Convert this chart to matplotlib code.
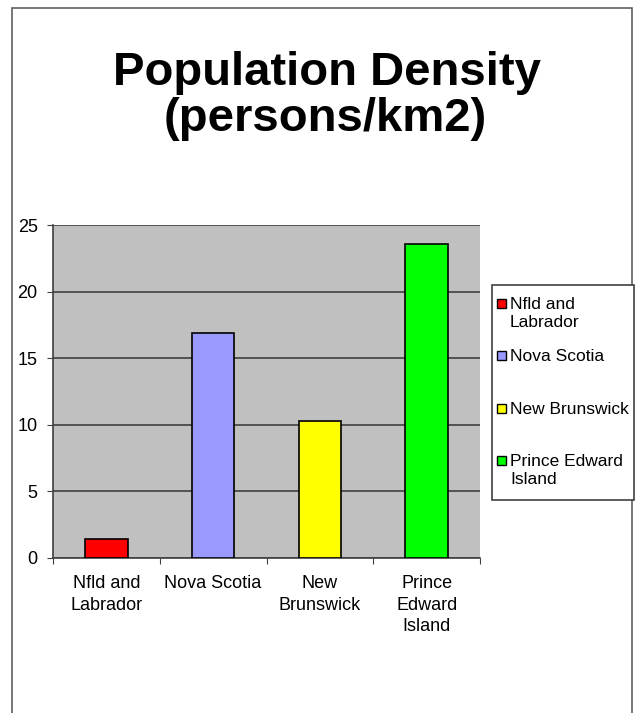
import matplotlib
matplotlib.use('Agg')
import matplotlib.pyplot as plt
from matplotlib.patches import Rectangle

plt.rcParams['font.family'] = ['Liberation Sans', 'DejaVu Sans']

provinces = ['Nfld and\nLabrador', 'Nova Scotia', 'New\nBrunswick', 'Prince\nEdward\nIsland']
legend_labels = ['Nfld and\nLabrador', 'Nova Scotia', 'New Brunswick', 'Prince Edward\nIsland']
density = [1.4, 16.9, 10.3, 23.6]
colors = ['#ff0000', '#9999ff', '#ffff00', '#00ff00']

W, H = 642, 713
fig = plt.figure(figsize=(W / 100, H / 100), dpi=100)

def fx(px):
    return px / W

def fy(py):
    return 1 - py / H

# outer frame (bottom edge falls off the picture)
fig.patches.append(Rectangle((fx(12), -0.05), fx(620), 1.05 - 8 / H, transform=fig.transFigure,
                             fill=False, edgecolor='#606060', linewidth=1.2))

ax = fig.add_axes([fx(53), fy(558), fx(480 - 53), (558 - 225) / H])
ax.set_facecolor('#c0c0c0')
x = range(len(density))
ax.bar(x, density, width=0.4, color=colors, edgecolor='black', linewidth=1.2, zorder=3)
ax.set_xlim(-0.5, 3.5)
ax.set_ylim(0, 25)
ax.set_yticks(range(0, 26, 5))
ax.yaxis.grid(True, color='#404040', linewidth=1.2, zorder=1)
ax.set_xticks([-0.5, 0.5, 1.5, 2.5, 3.5])
ax.set_xticklabels([])
ax.set_xticks(list(x), minor=True)
ax.set_xticklabels(provinces, minor=True, fontsize=13, linespacing=1.35)
ax.tick_params(axis='x', which='minor', length=0, pad=12.5)
ax.tick_params(axis='x', which='major', length=4, color='#404040')
ax.tick_params(axis='y', length=4, labelsize=13, color='#404040', pad=7)
for s in ['top', 'right']:
    ax.spines[s].set_visible(False)
for s in ['left', 'bottom']:
    ax.spines[s].set_color('#404040')
    ax.spines[s].set_linewidth(1.2)

# Excel-style legend: entries placed at even steps, swatch beside first line
fig.patches.append(Rectangle((fx(492), fy(500)), fx(634 - 492), (500 - 285) / H,
                             transform=fig.transFigure, fill=True, facecolor='white',
                             edgecolor='#404040', linewidth=1.2))
for i, (lab, c) in enumerate(zip(legend_labels, colors)):
    yc = 303 + 52.3 * i
    fig.patches.append(Rectangle((fx(497), fy(yc + 5)), fx(9), 9 / H, transform=fig.transFigure,
                                 facecolor=c, edgecolor='black', linewidth=1))
    fig.text(fx(510), fy(yc - 6), lab, ha='left', va='top', fontsize=12.5, linespacing=1.25)

fig.text(fx(327), fy(85), 'Population Density', ha='center', va='baseline',
         fontsize=34, fontweight='bold')
fig.text(fx(325), fy(131), '(persons/km2)', ha='center', va='baseline',
         fontsize=34, fontweight='bold')

fig.savefig('out.png', dpi=100)
